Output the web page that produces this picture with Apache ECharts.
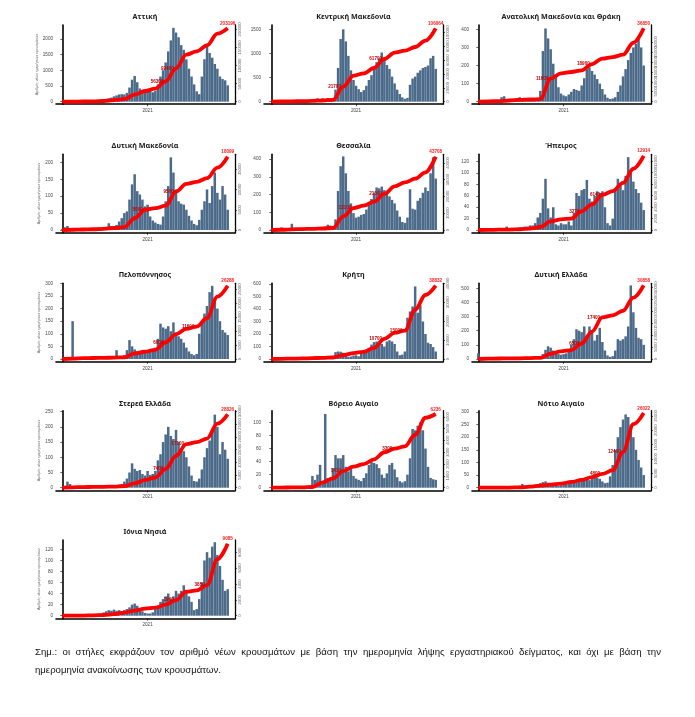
<!DOCTYPE html>
<html><head><meta charset="utf-8">
<script src="https://cdn.jsdelivr.net/npm/echarts@6/dist/echarts.min.js"></script>
<style>
html,body{margin:0;padding:0;background:#fff;}
#chart{position:absolute;left:0;top:0;width:695px;height:717px;}
.note{position:absolute;left:35px;width:626px;font-family:"Liberation Sans",Arial,sans-serif;font-size:9.6px;line-height:12px;color:#111;white-space:nowrap;}
#n1{top:646px;text-align:justify;text-align-last:justify;white-space:normal;}
#n2{top:664px;}
</style></head><body>
<div id="chart"></div>
<div class="note" id="n1">Σημ.: οι στήλες εκφράζουν τον αριθμό νέων κρουσμάτων με βάση την ημερομηνία λήψης εργαστηριακού δείγματος, και όχι με βάση την</div>
<div class="note" id="n2">ημερομηνία ανακοίνωσης των κρουσμάτων.</div>
<script>
// ---------- DATA ----------
const regionNames = ['Αττική','Κεντρική Μακεδονία','Ανατολική Μακεδονία και Θράκη','Δυτική Μακεδονία','Θεσσαλία','Ήπειρος','Πελοπόννησος','Κρήτη','Δυτική Ελλάδα','Στερεά Ελλάδα','Βόρειο Αιγαίο','Νότιο Αιγαίο','Ιόνια Νησιά'];
const yearTickIndex = 33;
const yearTickLabel = '2021';
const leftAxisName = 'Αριθμός νέων ημερήσιων κρουσμάτων';
const cumStep = 4; // cumulative values read every 4th period

const barsAttiki = [5,20,25,15,8,5,3,3,5,8,10,15,20,30,40,60,80,90,110,130,170,200,230,240,230,280,450,700,820,620,420,370,360,330,330,300,340,550,800,1000,1250,1600,1950,2350,2200,2050,1800,1650,1350,1050,800,550,330,240,800,1350,1750,1550,1400,1200,1050,800,720,680,520];
const cumAttiki = [0,300,600,1000,2000,4600,6900,19400,29600,36000,56300,92400,130200,139500,156100,188400,203196];
const barsKMak = [3,8,10,6,3,2,2,2,3,4,5,6,8,10,12,15,20,60,70,40,70,50,75,60,70,250,700,1300,1500,1250,950,650,450,330,260,200,240,330,450,550,700,820,900,1020,880,760,680,520,380,250,160,90,60,80,350,480,520,600,650,700,720,750,900,950,680];
const cumKMak = [0,300,600,700,1200,1700,2650,21700,37600,41000,48700,61700,70900,73700,79000,88200,106064];
const barsAMT = [2,3,3,2,1,1,1,1,2,25,30,10,5,5,8,20,25,15,8,6,6,7,8,10,60,280,405,350,290,210,150,80,45,35,30,40,55,70,65,60,90,130,180,190,170,150,125,100,70,40,22,15,18,25,55,90,140,180,230,270,300,320,350,300,200];
const cumAMT = [0,150,300,600,900,1100,1300,11600,14200,14900,15700,18900,21600,22400,23600,29600,36850];
const barsDMak = [3,8,12,5,3,2,2,1,2,2,3,3,4,5,8,4,5,8,20,12,12,15,25,35,50,55,90,135,165,115,105,90,70,75,40,28,22,18,16,40,85,130,215,170,120,85,78,75,60,42,28,18,14,30,60,85,120,80,130,170,110,90,130,105,60];
const cumDMak = [0,60,120,180,300,450,700,2900,5000,5400,6000,9500,11400,11900,12800,15400,18099];
const barsThess = [2,3,3,5,15,3,2,3,35,5,3,3,3,4,5,6,8,15,12,15,12,20,30,25,20,60,220,360,415,320,220,150,95,70,75,85,90,115,145,175,210,240,235,245,225,205,190,170,150,110,75,45,40,70,230,120,115,165,180,210,240,220,320,410,290];
const cumThess = [0,150,400,550,700,900,1200,8100,13100,14500,16900,21500,26000,28400,30600,34400,43708];
const barsIpeiros = [0,1,1,1,0,0,0,1,1,2,3,6,2,2,3,4,5,5,6,6,8,8,12,22,30,55,90,38,22,40,10,8,12,10,10,15,8,30,65,60,70,72,88,55,50,60,68,65,68,40,12,8,20,72,90,80,70,95,128,100,85,72,65,48,35];
const cumIpeiros = [0,20,50,80,120,250,520,1500,1840,2000,3270,4480,6140,6770,8200,10680,12914];
const barsPelop = [1,2,2,3,150,2,1,1,1,1,2,2,3,3,4,5,6,8,6,8,10,35,10,8,15,35,75,50,38,30,32,35,30,35,40,40,45,80,140,125,120,130,110,145,100,90,80,65,45,30,20,15,20,100,150,180,210,265,290,240,200,150,115,105,95];
const cumPelop = [0,150,300,350,400,500,600,2000,2600,3300,6000,8900,10800,11600,14700,22400,26288];
const barsKriti = [0,1,1,1,0,0,0,1,1,2,2,3,3,4,5,8,15,20,12,12,14,15,18,20,25,55,60,58,50,42,18,20,28,30,22,50,70,75,90,115,135,140,140,120,100,140,150,140,120,60,30,35,60,330,380,420,580,370,430,300,200,130,120,95,60];
const cumKriti = [0,100,200,300,450,600,800,2100,3100,3800,5900,10700,13800,15000,26100,33900,38832];
const barsDEll = [40,3,2,1,1,1,1,1,1,2,2,2,3,3,3,4,5,5,6,7,8,10,12,20,18,35,65,90,80,60,45,35,30,35,40,55,100,140,210,200,190,230,165,230,190,130,170,220,120,60,25,15,20,60,140,130,140,160,230,520,330,220,150,140,100];
const cumDEll = [0,150,200,250,300,400,500,2200,3200,3750,6500,11500,17400,18300,20200,25700,30858];
const barsSterea = [2,5,20,12,4,2,1,1,1,1,1,2,2,2,4,3,3,4,5,7,8,8,10,12,20,30,50,80,62,55,58,45,40,55,42,45,55,90,110,150,175,200,170,160,190,150,130,120,100,70,40,22,20,30,60,100,130,155,190,240,200,110,150,125,95];
const cumSterea = [0,150,250,300,350,450,600,1700,3000,4000,7400,12500,17100,17900,19300,25200,28826];
const barsBAig = [0,0,1,1,0,0,0,0,1,1,1,1,1,2,2,3,18,12,20,35,10,113,15,12,30,50,45,45,50,32,25,30,18,14,12,10,15,22,35,40,38,36,30,20,15,22,35,38,28,16,10,8,10,20,45,90,88,95,100,88,60,32,15,13,12];
const cumBAig = [0,10,20,30,60,450,790,1410,1780,2000,2400,3000,3300,3500,4480,5920,6236];
const barsNAig = [0,1,1,1,0,0,0,0,1,1,1,2,2,3,4,6,8,15,8,6,5,6,10,14,18,22,25,20,15,12,10,8,10,12,15,15,18,20,22,25,30,35,35,30,38,45,40,35,25,18,20,45,90,150,200,240,270,290,280,250,200,150,110,80,50];
const cumNAig = [0,20,40,60,100,350,750,1100,1450,2000,2700,3700,4800,6100,12400,22100,26022];
const barsIonia = [0,0,1,1,0,0,0,0,0,1,1,1,2,2,3,4,6,8,10,9,11,9,10,8,10,12,15,20,22,18,12,8,5,4,4,6,12,18,25,30,35,40,30,35,45,40,45,55,45,35,25,10,12,30,60,100,115,105,125,133,110,90,65,45,48];
const cumIonia = [0,10,20,40,80,200,400,650,900,1020,1390,1960,3030,3190,3850,7120,9085];

const leftTicks = [
  [0,500,1000,1500,2000],[0,500,1000,1500],[0,100,200,300,400],
  [0,50,100,150,200],[0,100,200,300,400],[0,20,40,60,80,100,120],
  [0,50,100,150,200,250,300],[0,100,200,300,400,500,600],[0,100,200,300,400,500],
  [0,50,100,150,200,250],[0,20,40,60,80,100],[0,50,100,150,200,250,300],
  [0,20,40,60,80,100,120]
];
const rightTicks = [
  [0,50000,100000,150000,200000],[0,20000,40000,60000,80000,100000],[0,5000,10000,15000,20000,25000,30000,35000],
  [0,5000,10000,15000],[0,10000,20000,30000,40000],[0,2000,4000,6000,8000,10000,12000],
  [0,5000,10000,15000,20000,25000],[0,10000,20000,30000,40000],[0,5000,10000,15000,20000,25000,30000],
  [0,5000,10000,15000,20000,25000,30000],[0,1000,2000,3000,4000,5000,6000],[0,5000,10000,15000,20000,25000],
  [0,2000,4000,6000,8000]
];
const leftAxisMax = [2440,1590,424,224,427,133,300,605,535,253,118,305,137];
const rightAxisMax = [212300,110800,38500,18700,45150,13200,27150,40100,31700,30250,6515,26830,9550];
const labelPeriods = [[40,44],[28,44],[28,44],[32,44],[32,44],[40,48],[40,52],[44,52],[40,48],[40,48],[28,48],[48,56],[44,56]];

const barsList = [barsAttiki,barsKMak,barsAMT,barsDMak,barsThess,barsIpeiros,barsPelop,barsKriti,barsDEll,barsSterea,barsBAig,barsNAig,barsIonia];
const cumList = [cumAttiki,cumKMak,cumAMT,cumDMak,cumThess,cumIpeiros,cumPelop,cumKriti,cumDEll,cumSterea,cumBAig,cumNAig,cumIonia];

// ---------- LAYOUT ----------
const cols = [
  {axisL:56, plotL:61, plotR:229, axisR:235, cx:145},
  {axisL:264, plotL:270, plotR:437, axisR:443, cx:353.5},
  {axisL:472, plotL:477, plotR:645, axisR:651, cx:561}
];
const rows = [
  {title:17, top:25, zero:101.7, base:104.2},
  {title:146, top:154.3, zero:230, base:232.8},
  {title:275, top:283.3, zero:359, base:361.8},
  {title:404, top:410.7, zero:487.7, base:490.4},
  {title:532, top:540, zero:615.7, base:618.6}
];

const grids=[], xAxes=[], yAxes=[], series=[], graphics=[];
const BAR_COLOR = '#4c6b8a';
const font = '"Liberation Sans", Arial, sans-serif';
const plain = (v) => String(Math.round(v));

regionNames.forEach((name, p) => {
  const r = rows[Math.floor(p/3)], c = cols[p%3];
  const bars = barsList[p], cum = cumList[p];
  const n = bars.length;
  const unit = (c.plotR - c.plotL)/n;
  const xmin = -0.5 - (c.plotL - c.axisL)/unit;
  const xmax = n - 0.5 + (c.axisR - c.plotR)/unit;
  const padFrac = (r.base - r.zero)/(r.zero - r.top);

  grids.push({left:c.axisL, top:r.top, width:c.axisR-c.axisL, height:r.base-r.top});
  xAxes.push({
    gridIndex:p, type:'value', min:xmin, max:xmax,
    axisLine:{show:true, onZero:false, lineStyle:{color:'#000', width:1.6}},
    axisTick:{show:true, customValues:[yearTickIndex], length:2, lineStyle:{color:'#000', width:0.7}},
    axisLabel:{show:true, customValues:[yearTickIndex], formatter:()=>yearTickLabel, fontSize:4.6, color:'#444', margin:4, fontFamily:font},
    splitLine:{show:false}
  });
  yAxes.push({
    gridIndex:p, type:'value', position:'left',
    min:-leftAxisMax[p]*padFrac, max:leftAxisMax[p],
    axisLine:{show:true, lineStyle:{color:'#000', width:1.6}},
    axisTick:{show:true, customValues:leftTicks[p], length:2, lineStyle:{color:'#000', width:0.6}},
    axisLabel:{show:true, customValues:leftTicks[p], formatter:plain, fontSize:4.6, color:'#444', margin:3, fontFamily:font},
    splitLine:{show:false},
    name: (p%3===0) ? leftAxisName : '',
    nameLocation:'middle', nameGap:13, nameRotate:90,
    nameTextStyle:{fontSize:3.6, color:'#666', fontFamily:font}
  });
  yAxes.push({
    gridIndex:p, type:'value', position:'right',
    min:-rightAxisMax[p]*padFrac, max:rightAxisMax[p],
    axisLine:{show:true, lineStyle:{color:'#000', width:1.3}},
    axisTick:{show:true, customValues:rightTicks[p], length:2, lineStyle:{color:'#000', width:0.6}},
    axisLabel:{show:true, customValues:rightTicks[p], formatter:plain, rotate:90, fontSize:4.2, color:'#666', margin:3, fontFamily:font},
    splitLine:{show:false}
  });
  series.push({
    type:'bar', xAxisIndex:p, yAxisIndex:2*p,
    data: bars.map((v,i)=>[i,v]),
    barWidth: unit*0.97,
    itemStyle:{color:BAR_COLOR},
    silent:true
  });
  const lbl = labelPeriods[p];
  series.push({
    type:'line', xAxisIndex:p, yAxisIndex:2*p+1,
    smooth:0.35, smoothMonotone:'x',
    symbol:'circle', symbolSize:0.5, showSymbol:true,
    itemStyle:{color:'#ff0000'},
    lineStyle:{color:'#ff0000', width:3.8},
    label:{show:false, formatter:(q)=>String(q.value[1]), fontFamily:font, fontWeight:'bold', fontSize:4.6},
    data: cum.map((v,k)=>{
      const x = k*cumStep;
      const item = {value:[x, v]};
      if (k === cum.length-1) item.label = {show:true, position:'top', distance:2, color:'#ff1a1a'};
      else if (lbl.indexOf(x) >= 0) item.label = {show:true, position:'left', distance:2, color:'#c00000'};
      return item;
    }),
    z:3, silent:true
  });
  graphics.push({
    type:'text', x:c.cx, y:r.title,
    style:{text:name, align:'center', verticalAlign:'middle', font:'bold 7.2px "Noto Sans", sans-serif', fill:'#1a1a1a'}
  });
});

const chart = echarts.init(document.getElementById('chart'));
chart.setOption({
  animation:false,
  backgroundColor:'#fff',
  grid:grids, xAxis:xAxes, yAxis:yAxes, series:series,
  graphic:graphics
});
</script>
</body></html>
